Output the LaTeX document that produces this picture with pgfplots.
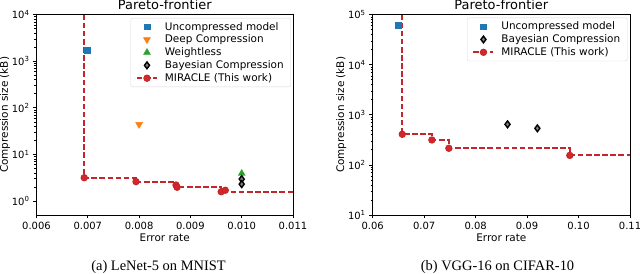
\documentclass[border=0pt]{standalone}
\usepackage{fontspec}
\setmainfont{DejaVu Sans}
\newfontfamily\capfont{Liberation Serif}
\usepackage{pgfplots}
\pgfplotsset{compat=1.18}
\definecolor{tabblue}{HTML}{1F77B4}
\definecolor{taborange}{HTML}{FF7F0E}
\definecolor{tabgreen}{HTML}{2CA02C}
\definecolor{tabred}{HTML}{D62728}
\definecolor{mired}{HTML}{C0282D}
\pgfplotsset{
  every axis/.append style={
    scale only axis, scaled x ticks=false,
    axis line style={line width=0.8bp},
    tick align=outside, xtick pos=bottom, ytick pos=left,
    major tick length=3.5bp, minor tick length=2bp,
    tick style={black, line width=0.7bp},
    tick label style={font=\fontsize{10}{11}\selectfont},
    label style={font=\fontsize{10.5}{12}\selectfont},
    legend cell align=left,
    legend style={anchor=north east, draw=black!15, rounded corners=2bp, fill=white,
      font=\fontsize{10.5}{12}\selectfont, row sep=0.2bp, inner xsep=5.4bp, inner ysep=2.4bp,
      nodes={inner sep=1.6bp},
      /tikz/every odd column/.append style={column sep=5.5bp}},
    legend image code/.code={\draw[mark repeat=2,mark phase=2,#1] plot coordinates {(0bp,0bp) (10bp,0bp) (20bp,0bp)};},
  },
  every axis title/.style={at={(0.5,1)}, anchor=base, yshift=5.4bp, font=\fontsize{13}{14}\selectfont},
  every axis x label/.style={at={([yshift=-22.7bp]axis description cs:0.5,0)}, anchor=center},
  every axis y label/.style={at={([xshift=-31.5bp]axis description cs:0,0.5)}, anchor=center, rotate=90},
}
\tikzset{
  stepline/.style={mired, line width=1.7bp, dash pattern=on 5.5bp off 2.6bp},
}
\begin{document}
\begin{tikzpicture}
\useasboundingbox (0,0) rectangle (640bp,274bp);
% ---------- left panel ----------
\begin{axis}[ymode=log, at={(36.5bp,59bp)}, anchor=south west,
  width=256.5bp, height=200.3bp,
  title={Pareto-frontier}, xlabel={Error rate}, ylabel={Compression size (kB)},
  xmin=0.006, xmax=0.011, ymin=0.5, ymax=10000,
  xtick={0.006,0.007,0.008,0.009,0.010,0.011},
  xticklabels={0.006,0.007,0.008,0.009,0.010,0.011},
  ytick={1,10,100,1000,10000},
  yticklabels={10\textsuperscript{0},10\textsuperscript{1},10\textsuperscript{2},10\textsuperscript{3},10\textsuperscript{4}},
  legend style={at={(0.992,0.984)}},
]
\addplot[stepline, forget plot] coordinates {(0.00693,10000) (0.00693,3.16) (0.00794,3.16) (0.00794,2.6) (0.00872,2.6) (0.00872,1.97) (0.0096,1.97) (0.0096,1.55) (0.011,1.55)};
\addplot[only marks, mark=square*, mark size=2.8bp, color=tabblue] coordinates {(0.00699,1720)};
\addlegendentry{Uncompressed model}
\addplot[only marks, mark=triangle*, mark size=4bp, color=taborange, mark options={rotate=180}] coordinates {(0.0080,44)};
\addlegendentry{Deep Compression}
\addplot[only marks, mark=triangle*, mark size=4bp, color=tabgreen] coordinates {(0.0100,3.9)};
\addlegendentry{Weightless}
\addplot[only marks, mark=diamond*, mark size=3.4bp, mark options={draw=black, fill=black!50, line width=1.4bp}] coordinates {(0.0100,2.95) (0.0100,2.3)};
\addlegendentry{Bayesian Compression}
\addplot[only marks, mark=*, mark size=3.2bp, mark options={fill=tabred, draw=mired, line width=0.9bp}, forget plot] coordinates {(0.00693,3.16) (0.00794,2.6) (0.00872,2.2) (0.00874,1.97) (0.0096,1.58) (0.00968,1.7)};
\addlegendimage{mired, line width=1.7bp, dash pattern=on 5.5bp off 2.6bp, mark=*, mark size=3.2bp, mark options={solid, fill=tabred, draw=mired, line width=0.9bp}}
\addlegendentry{MIRACLE (This work)}
\end{axis}
% ---------- right panel ----------
\begin{axis}[ymode=log, at={(372.7bp,59bp)}, anchor=south west,
  width=257.3bp, height=200.3bp,
  title={Pareto-frontier}, xlabel={Error rate}, ylabel={Compression size (kB)},
  xmin=0.06, xmax=0.11, ymin=10, ymax=100000,
  xtick={0.06,0.07,0.08,0.09,0.10,0.11},
  xticklabels={0.06,0.07,0.08,0.09,0.10,0.11},
  ytick={10,100,1000,10000,100000},
  yticklabels={10\textsuperscript{1},10\textsuperscript{2},10\textsuperscript{3},10\textsuperscript{4},10\textsuperscript{5}},
  legend style={at={(0.99,0.985)}},
]
\addplot[stepline, forget plot] coordinates {(0.06575,100000) (0.06575,409) (0.0715,409) (0.0715,315) (0.0748,315) (0.0748,215) (0.0983,215) (0.0983,158) (0.11,158)};
\addplot[only marks, mark=square*, mark size=2.8bp, color=tabblue] coordinates {(0.0650,62000)};
\addlegendentry{Uncompressed model}
\addplot[only marks, mark=diamond*, mark size=3.4bp, mark options={draw=black, fill=black!50, line width=1.4bp}] coordinates {(0.0862,647) (0.0920,538)};
\addlegendentry{Bayesian Compression}
\addplot[only marks, mark=*, mark size=3.2bp, mark options={fill=tabred, draw=mired, line width=0.9bp}, forget plot] coordinates {(0.06575,409) (0.0715,315) (0.0748,215) (0.0983,155)};
\addlegendimage{mired, line width=1.7bp, dash pattern=on 5.5bp off 2.6bp, mark=*, mark size=3.2bp, mark options={solid, fill=tabred, draw=mired, line width=0.9bp}}
\addlegendentry{MIRACLE (This work)}
\end{axis}
\node[anchor=base, font=\capfont\fontsize{14.5}{16}\selectfont] at (158.5bp,4bp) {(a) LeNet-5 on MNIST};
\node[anchor=base, font=\capfont\fontsize{14.5}{16}\selectfont] at (497.5bp,4bp) {(b) VGG-16 on CIFAR-10};
\end{tikzpicture}
\end{document}
